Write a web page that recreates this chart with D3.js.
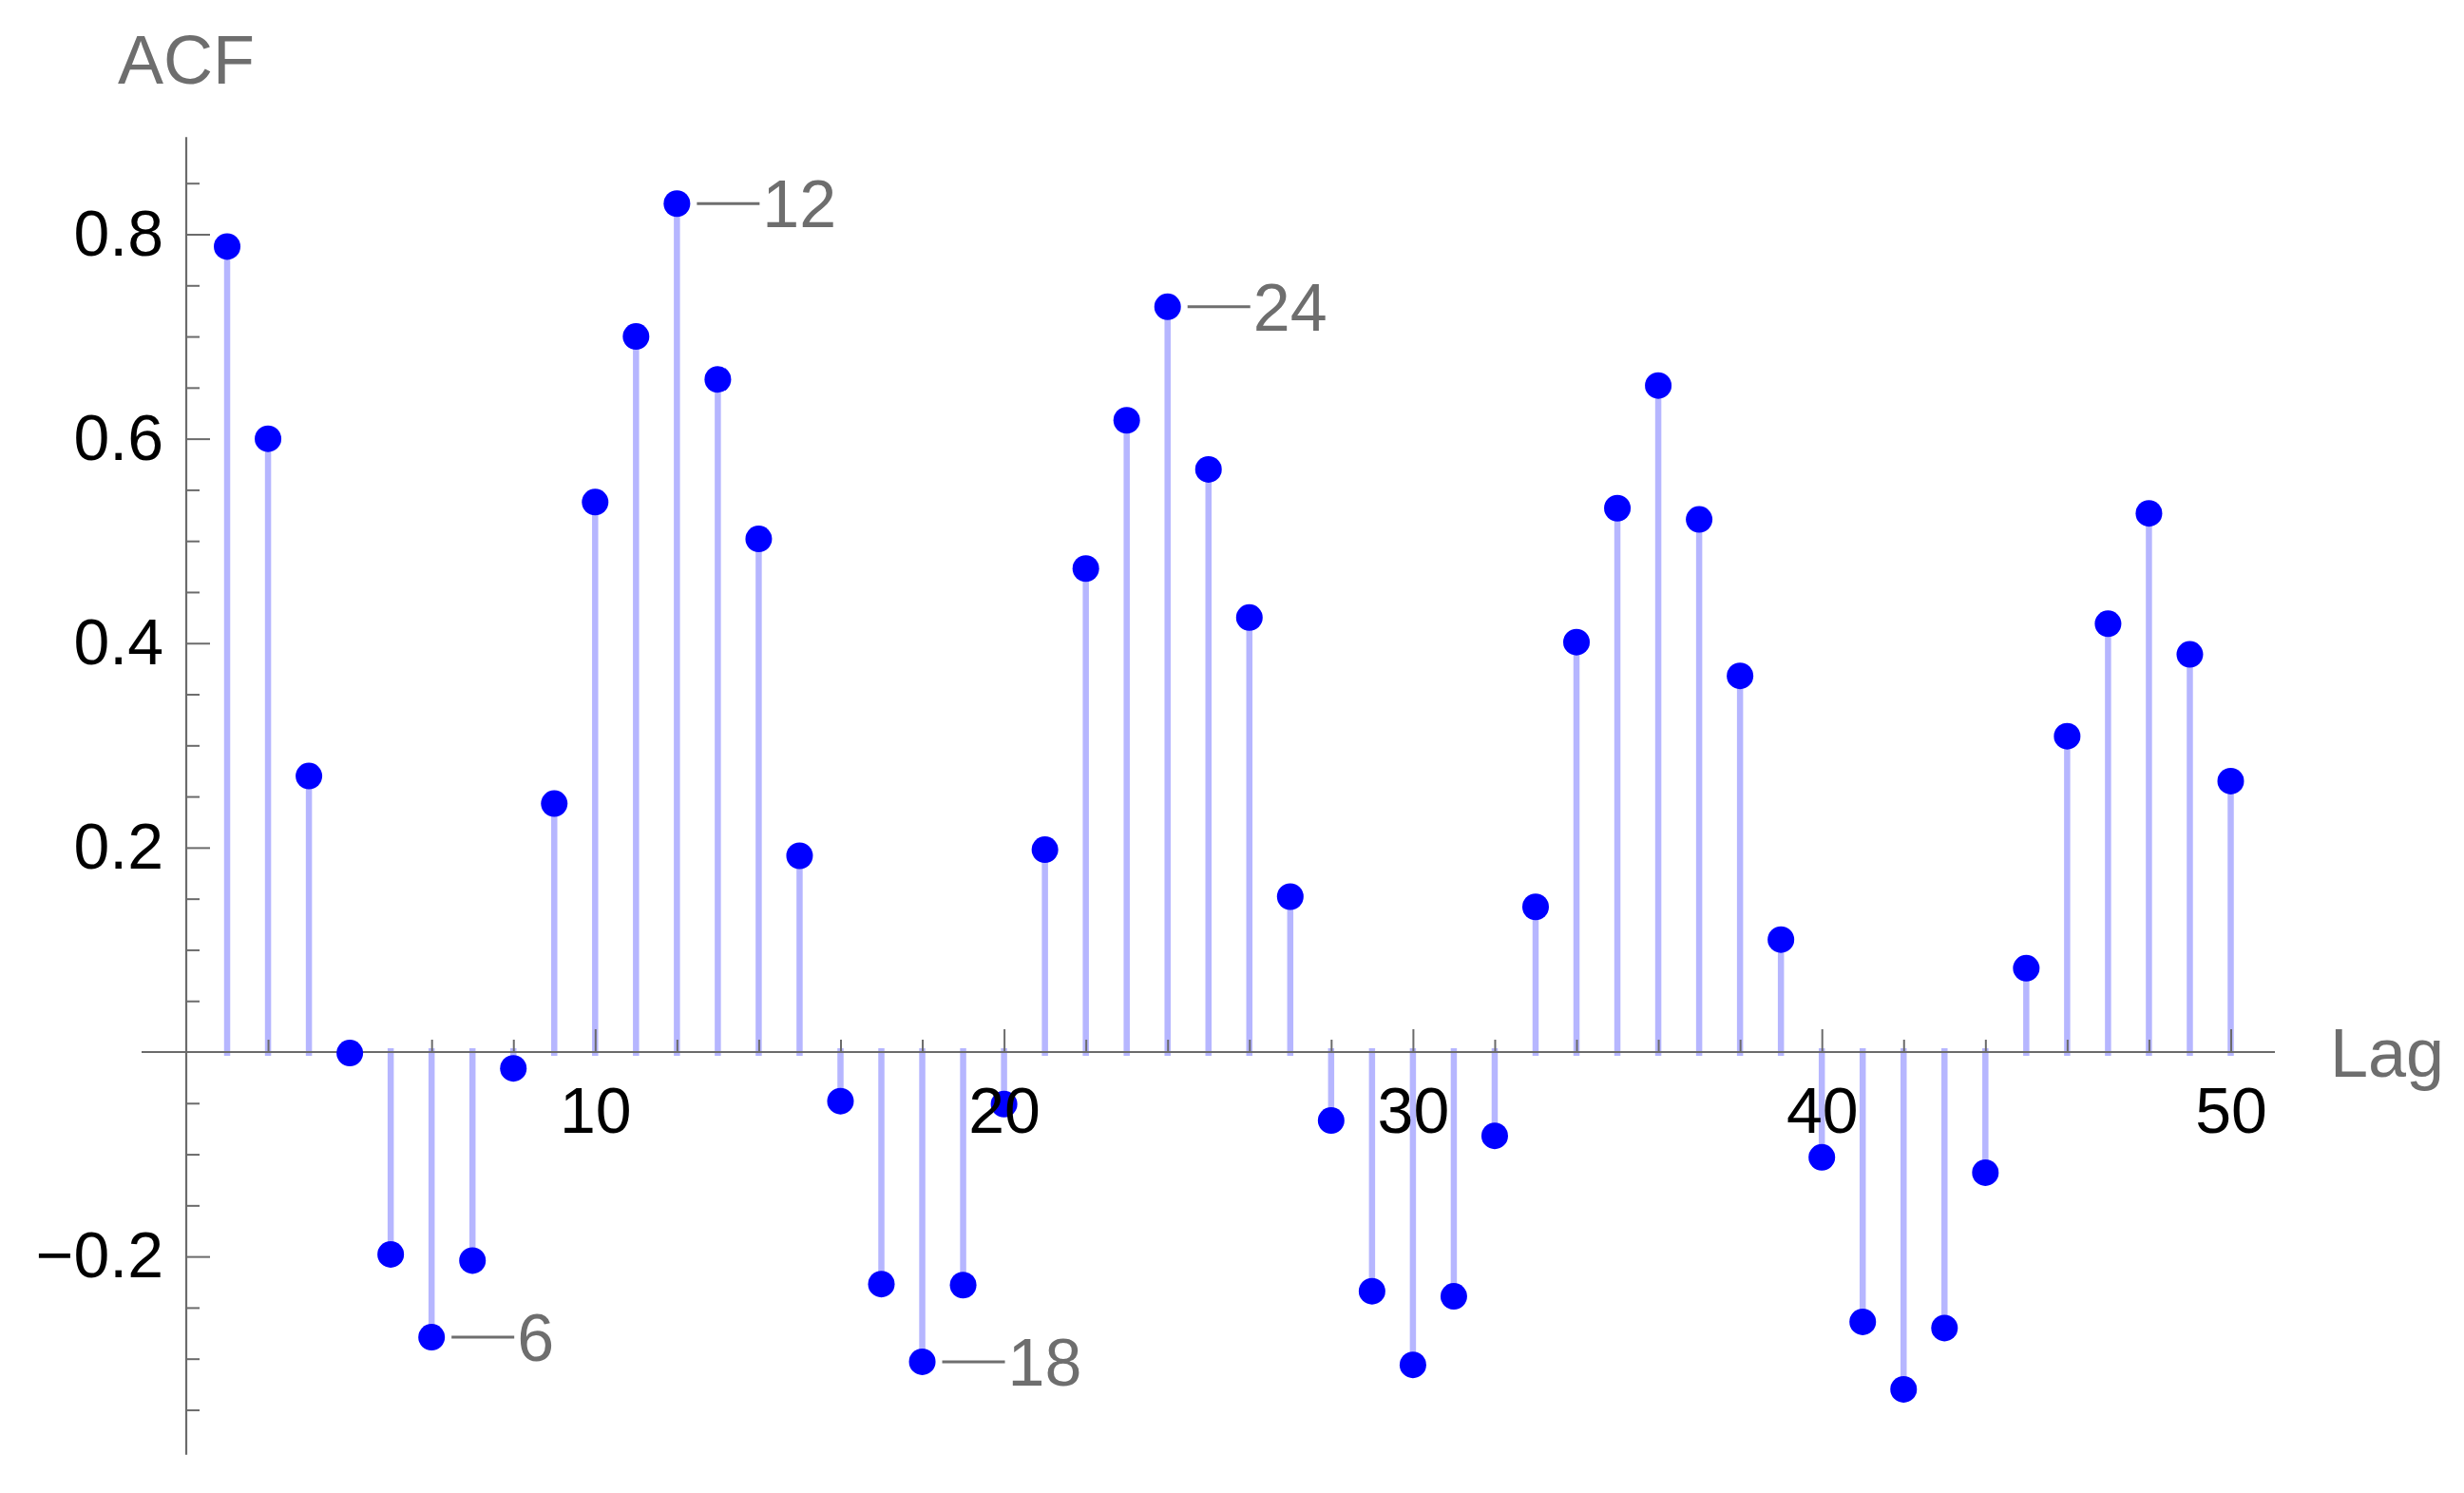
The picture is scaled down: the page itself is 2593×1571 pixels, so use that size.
<!DOCTYPE html>
<html>
<head>
<meta charset="utf-8">
<script src="https://cdn.jsdelivr.net/npm/d3@7"></script>
<style>
html,body{margin:0;padding:0;background:#fff;}
svg{display:block;}
text{font-family:"Liberation Sans",Arial,sans-serif;}
</style>
</head>
<body>
<svg id="chart" width="2593" height="1571"></svg>
<script>
// ---- data ----
const lags = d3.range(1, 51);
const acf = [0.788, 0.600, 0.270, -0.001, -0.198, -0.279, -0.204, -0.016, 0.243, 0.538,
             0.700, 0.830, 0.658, 0.502, 0.192, -0.048, -0.227, -0.303, -0.228, -0.051,
             0.198, 0.473, 0.618, 0.729, 0.570, 0.425, 0.152, -0.067, -0.234, -0.306,
             -0.239, -0.082, 0.142, 0.401, 0.532, 0.652, 0.521, 0.368, 0.110, -0.103,
             -0.264, -0.330, -0.270, -0.118, 0.082, 0.309, 0.419, 0.527, 0.389, 0.265];
const labeledLags = [6, 12, 18, 24];
const xMajorTicks = [10, 20, 30, 40, 50];
const xMinorTicks = d3.range(2, 51, 2).filter(v => v % 10 !== 0);
const yMajorTicks = [-0.2, 0.2, 0.4, 0.6, 0.8];
const yMinorTicks = d3.range(-7, 18).map(i => i * 0.05).filter(v => Math.abs(Math.round(v * 100) % 20) !== 0);
const xTitle = "Lag";
const yTitle = "ACF";

// ---- layout ----
const svg = d3.select("#chart");
const x = d3.scaleLinear().domain([0, 50]).range([196, 2347.5]);
const y = d3.scaleLinear().domain([0, 0.8]).range([1107, 246.5]);
const axisColor = "#6b6b6b";
const labelGray = "#6e6e6e";
const fs = 68;

// stems
svg.append("g").selectAll("line").data(lags).join("line")
  .attr("x1", d => x(d)).attr("x2", d => x(d))
  .attr("y1", (d, i) => y(0) + (acf[i] >= 0 ? 4 : -4)).attr("y2", (d, i) => y(acf[i]))
  .attr("stroke", "#b6b6ff").attr("stroke-width", 6.5);

// axes lines
svg.append("line").attr("x1", 149).attr("x2", 2394).attr("y1", y(0)).attr("y2", y(0))
  .attr("stroke", axisColor).attr("stroke-width", 2.2);
svg.append("line").attr("x1", x(0)).attr("x2", x(0)).attr("y1", y(0.895)).attr("y2", y(-0.394))
  .attr("stroke", axisColor).attr("stroke-width", 2.2);

function styleAxis(g) {
  g.select(".domain").remove();
  g.selectAll(".tick line").attr("stroke", axisColor).attr("stroke-width", 2);
  g.selectAll(".tick text").attr("fill", "#000").style("font-size", fs + "px")
    .style("font-family", '"Liberation Sans",Arial,sans-serif');
}

// x axis ticks
svg.append("g").attr("transform", `translate(0,${y(0)})`)
  .call(d3.axisBottom(x).tickValues(xMinorTicks).tickSize(-13).tickFormat(""))
  .call(styleAxis);
const xMaj = svg.append("g").attr("class", "xmaj").attr("transform", `translate(0,${y(0)})`)
  .call(d3.axisBottom(x).tickValues(xMajorTicks).tickSize(-24).tickPadding(37).tickFormat(d3.format("d")))
  .call(styleAxis);

// y axis ticks
svg.append("g").attr("transform", `translate(${x(0)},0)`)
  .call(d3.axisLeft(y).tickValues(yMinorTicks).tickSize(-14).tickFormat(""))
  .call(styleAxis);
svg.append("g").attr("transform", `translate(${x(0)},0)`)
  .call(d3.axisLeft(y).tickValues(yMajorTicks).tickSize(-25).tickPadding(24)
        .tickFormat(d => d3.format(".1f")(d).replace("-", "\u2212")))
  .call(styleAxis);

// points
svg.append("g").selectAll("circle").data(lags).join("circle")
  .attr("cx", d => x(d)).attr("cy", (d, i) => y(acf[i]))
  .attr("r", 14).attr("fill", "#0000ff");

// raise x tick labels above points
xMaj.raise();

// callouts
const ann = svg.append("g");
labeledLags.forEach(l => {
  const cx = x(l), cy = y(acf[l - 1]);
  ann.append("line").attr("x1", cx + 21).attr("x2", cx + 87).attr("y1", cy).attr("y2", cy)
    .attr("stroke", labelGray).attr("stroke-width", 3);
  ann.append("text").attr("x", cx + 90).attr("y", cy).attr("dy", "0.36em")
    .attr("fill", labelGray).style("font-size", "70px").text(l);
});

// axis titles
svg.append("text").attr("x", 124).attr("y", 88).attr("fill", labelGray)
  .style("font-size", "72px").text(yTitle);
svg.append("text").attr("x", 2452).attr("y", 1133).attr("fill", labelGray)
  .style("font-size", "72px").text(xTitle);
</script>
</body>
</html>
